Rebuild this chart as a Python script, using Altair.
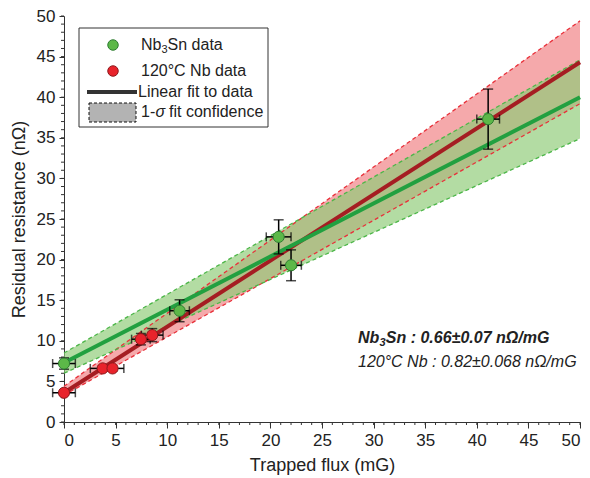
import altair as alt
import pandas as pd

# ---------------- data ----------------
nb3sn_flux = [0.0, 11.2, 20.8, 22.0, 41.1]
nb3sn_res = [7.2, 13.7, 22.8, 19.3, 37.3]
nb3sn_flux_err = [1.1, 0.95, 1.2, 1.0, 1.1]
nb3sn_res_err = [0.7, 1.35, 2.1, 1.9, 3.7]

nb_flux = [0.0, 3.75, 4.7, 7.45, 8.55]
nb_res = [3.6, 6.6, 6.6, 10.2, 10.7]
nb_flux_err = [1.1, 1.2, 1.1, 0.9, 1.05]
nb_res_err = [0.3, 0.3, 0.3, 0.7, 0.8]

fit_flux = [0, 50]
nb3sn_fit = [7.3, 40.0]
nb3sn_lo = [6.0, 34.9]
nb3sn_hi = [8.5, 44.6]
nb_fit = [3.6, 44.3]
nb_lo = [3.3, 39.2]
nb_hi = [4.4, 49.4]

major_ticks = [0, 5, 10, 15, 20, 25, 30, 35, 40, 45, 50]
minor_ticks = list(range(0, 51))

FONT = "Liberation Sans"
G_FILL, G_EDGE, G_LINE, G_BAND, G_DASH = "#5cb848", "#2f7d32", "#22a040", "#8fcc78", "#4cb648"
R_FILL, R_EDGE, R_LINE, R_BAND, R_DASH = "#e8232b", "#8e1a1d", "#a51d22", "#f5a9ab", "#e8303a"

xs = alt.Scale(domain=[0, 50], nice=False, zero=False)
ys = alt.Scale(domain=[0, 50], nice=False, zero=False)

def pts_df(fx, r, fe, re):
    d = pd.DataFrame({"flux": fx, "res": r, "fe": fe, "re": re})
    d["xlo"] = d.flux - d.fe
    d["xhi"] = d.flux + d.fe
    d["ylo"] = d.res - d.re
    d["yhi"] = d.res + d.re
    return d

g_df = pts_df(nb3sn_flux, nb3sn_res, nb3sn_flux_err, nb3sn_res_err)
r_df = pts_df(nb_flux, nb_res, nb_flux_err, nb_res_err)
g_fit = pd.DataFrame({"flux": fit_flux, "fit": nb3sn_fit, "lo": nb3sn_lo, "hi": nb3sn_hi})
r_fit = pd.DataFrame({"flux": fit_flux, "fit": nb_fit, "lo": nb_lo, "hi": nb_hi})

X = alt.X("flux:Q", scale=xs,
          axis=alt.Axis(title="Trapped flux (mG)", values=major_ticks, tickSize=6,
                        labelPadding=4, titlePadding=8, format="d"))
Y = alt.Y("lo:Q", scale=ys,
          axis=alt.Axis(title="Residual resistance (nΩ)", values=major_ticks, tickSize=5,
                        labelPadding=4, titlePadding=8, format="d"))

def band(df, color, op):
    return alt.Chart(df).mark_area(color=color, opacity=op).encode(x=X, y=Y, y2="hi:Q")

def dashed(df, field, color):
    return alt.Chart(df).mark_line(color=color, strokeDash=[4, 3], strokeWidth=1.3).encode(
        x=alt.X("flux:Q", scale=xs), y=alt.Y(f"{field}:Q", scale=ys))

def fitline(df, color):
    return alt.Chart(df).mark_line(color=color, strokeWidth=4).encode(
        x=alt.X("flux:Q", scale=xs), y=alt.Y("fit:Q", scale=ys))

def errbars(df):
    xq = alt.X("flux:Q", scale=xs)
    yq = alt.Y("res:Q", scale=ys)
    vr = alt.Chart(df).mark_rule(color="black", strokeWidth=1.5).encode(
        x=xq, y=alt.Y("ylo:Q", scale=ys), y2="yhi:Q")
    hr = alt.Chart(df).mark_rule(color="black", strokeWidth=1.5).encode(
        y=yq, x=alt.X("xlo:Q", scale=xs), x2="xhi:Q")
    c1 = alt.Chart(df).mark_tick(orient="horizontal", size=10, thickness=1.5, color="black").encode(
        x=xq, y=alt.Y("ylo:Q", scale=ys))
    c2 = alt.Chart(df).mark_tick(orient="horizontal", size=10, thickness=1.5, color="black").encode(
        x=xq, y=alt.Y("yhi:Q", scale=ys))
    c3 = alt.Chart(df).mark_tick(orient="vertical", size=9, thickness=1.5, color="black").encode(
        x=alt.X("xlo:Q", scale=xs), y=yq)
    c4 = alt.Chart(df).mark_tick(orient="vertical", size=9, thickness=1.5, color="black").encode(
        x=alt.X("xhi:Q", scale=xs), y=yq)
    return [vr, hr, c1, c2, c3, c4]

def points(df, fill, edge):
    return alt.Chart(df).mark_circle(size=125, color=fill, stroke=edge, strokeWidth=1, opacity=1).encode(
        x=alt.X("flux:Q", scale=xs), y=alt.Y("res:Q", scale=ys))

ticks_df = pd.DataFrame({"t": minor_ticks})
minor_x = alt.Chart(ticks_df).mark_rule(color="#333", strokeWidth=1).encode(
    x=alt.X("t:Q", scale=xs), y=alt.value(406), y2=alt.value(409))
minor_y = alt.Chart(ticks_df).mark_rule(color="#333", strokeWidth=1).encode(
    y=alt.Y("t:Q", scale=ys), x=alt.value(-3), x2=alt.value(0))

# ---------------- legend (pixel-positioned) ----------------
one = pd.DataFrame({"a": [0]})
leg_box = alt.Chart(one).mark_rect(fill="white", stroke="#333", strokeWidth=1).encode(
    x=alt.value(15), x2=alt.value(204), y=alt.value(12), y2=alt.value(111))
leg_g = alt.Chart(one).mark_circle(size=110, color=G_FILL, stroke=G_EDGE, strokeWidth=1, opacity=1).encode(
    x=alt.value(49), y=alt.value(29))
leg_r = alt.Chart(one).mark_circle(size=110, color=R_FILL, stroke=R_EDGE, strokeWidth=1, opacity=1).encode(
    x=alt.value(49), y=alt.value(55))
leg_line = alt.Chart(one).mark_rule(color="#333", strokeWidth=4).encode(
    x=alt.value(23), x2=alt.value(73), y=alt.value(76))
leg_rect = alt.Chart(one).mark_rect(fill="#b3b3b3", stroke="#111", strokeWidth=1, strokeDash=[3, 2]).encode(
    x=alt.value(25), x2=alt.value(72), y=alt.value(87), y2=alt.value(106))

def txt(s, x, y, size=16, style="normal", weight="normal", align="left"):
    return alt.Chart(pd.DataFrame({"s": [s]})).mark_text(
        align=align, baseline="middle", font=FONT, fontSize=size, fontStyle=style,
        fontWeight=weight, color="#222").encode(text="s:N", x=alt.value(x), y=alt.value(y))

legend_texts = [
    txt("Nb", 77, 29), txt("3", 97.5, 34, size=11), txt("Sn data", 103.6, 29),
    txt("120°C Nb data", 77, 55),
    txt("Linear fit to data", 74, 76),
    txt("1-", 77, 96), txt("σ", 91.5, 96, style="italic"), txt("fit confidence", 105, 96),
]

# ---------------- annotation ----------------
ann = [
    txt("Nb", 294, 322, style="italic", weight="bold"),
    txt("3", 315.5, 327, size=11, style="italic", weight="bold"),
    txt("Sn : 0.66±0.07 nΩ/mG", 321.8, 322, style="italic", weight="bold"),
    txt("120°C Nb : 0.82±0.068 nΩ/mG", 294, 346, style="italic"),
]

layers = [
    band(r_fit, R_BAND, 1.0),
    band(g_fit, G_BAND, 0.68),
    dashed(r_fit, "lo", R_DASH), dashed(r_fit, "hi", R_DASH),
    dashed(g_fit, "lo", G_DASH), dashed(g_fit, "hi", G_DASH),
    fitline(r_fit, R_LINE),
    fitline(g_fit, G_LINE),
    minor_x, minor_y,
] + errbars(g_df) + errbars(r_df) + [
    points(r_df, R_FILL, R_EDGE),
    points(g_df, G_FILL, G_EDGE),
    leg_box, leg_g, leg_r, leg_line, leg_rect,
] + legend_texts + ann

chart = alt.layer(*layers).properties(
    width=516, height=406,
    autosize=alt.AutoSizeParams(type="none"),
    padding={"left": 56, "top": 8, "right": 2, "bottom": 56},
).configure_view(strokeWidth=0).configure_axis(
    grid=False, domainColor="#333", tickColor="#333", labelColor="#222", titleColor="#222",
    labelFont=FONT, titleFont=FONT, labelFontSize=17, titleFontSize=18,
    titleFontWeight="normal", domainWidth=1, tickWidth=1,
)

chart.save("out.html", embed_options={"renderer": "svg", "actions": False})
